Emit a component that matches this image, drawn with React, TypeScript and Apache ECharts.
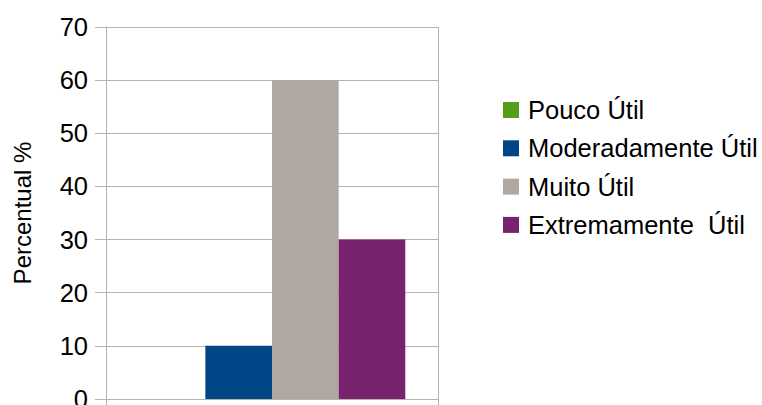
import React, { useEffect, useRef } from "react";
import * as echarts from "echarts";

const categories = [""];
const seriesNames = ["Pouco Útil", "Moderadamente Útil", "Muito Útil", "Extremamente  Útil"];
const seriesValues = [[0], [10], [60], [30]];
const seriesColors = ["#579d1c", "#004586", "#afa8a2", "#79226e"];
const yAxisName = "Percentual %";

export default function App() {
  const ref = useRef<HTMLDivElement>(null);
  useEffect(() => {
    if (!ref.current) return;
    const chart = echarts.init(ref.current, undefined, { renderer: "svg", width: 762, height: 405 });
    const font = "Liberation Sans";
    chart.setOption({
      animation: false,
      backgroundColor: "#ffffff",
      grid: {
        left: 106,
        top: 27,
        width: 332,
        height: 372,
        containLabel: false,
        outerBoundsMode: "none",
      },
      legend: {
        orient: "vertical",
        left: 503,
        top: 97,
        padding: 0,
        itemWidth: 16,
        itemHeight: 16,
        itemGap: 12.3,
        icon: "rect",
        textStyle: { fontFamily: font, fontSize: 25.5, color: "#000", lineHeight: 25, padding: [0, 0, 0, 4] },
        data: seriesNames,
      },
      xAxis: {
        type: "category",
        data: categories,
        axisLine: { show: true, lineStyle: { color: "#b3b3b3", width: 1 } },
        axisTick: { show: true, length: 12, lineStyle: { color: "#b3b3b3" } },
        axisLabel: { show: false },
        splitLine: { show: true, lineStyle: { color: "#b3b3b3", width: 1 } },
      },
      yAxis: {
        type: "value",
        min: 0,
        max: 70,
        interval: 10,
        name: yAxisName,
        nameLocation: "middle",
        nameGap: 72,
        nameRotate: 90,
        nameTextStyle: { fontFamily: font, fontSize: 24, color: "#000" },
        axisLine: { show: true, lineStyle: { color: "#b3b3b3", width: 1 } },
        axisTick: { show: true, length: 11, lineStyle: { color: "#b3b3b3" } },
        axisLabel: { fontFamily: font, fontSize: 25.5, color: "#000", margin: 18 },
        splitLine: { show: true, lineStyle: { color: "#b3b3b3", width: 1 } },
      },
      series: seriesNames.map((name, i) => ({
        name,
        type: "bar",
        data: seriesValues[i],
        itemStyle: { color: seriesColors[i] },
        barGap: "0%",
        barCategoryGap: "19.7%",
      })),
    });
    return () => chart.dispose();
  }, []);
  return (
    <div
      ref={ref}
      style={{ position: "fixed", left: 0, top: 0, width: 762, height: 405 }}
    />
  );
}
